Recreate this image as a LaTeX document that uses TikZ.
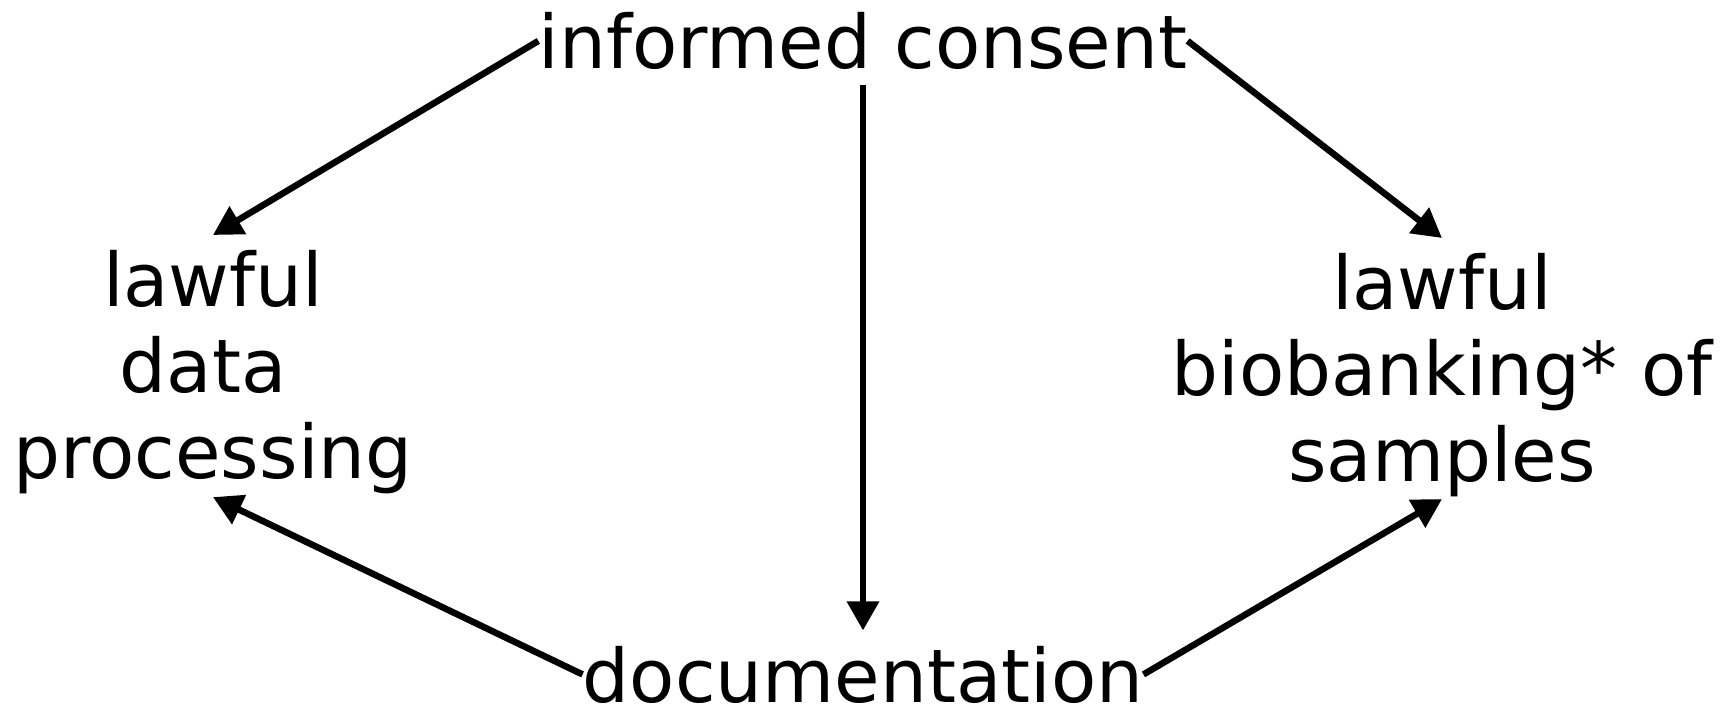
\documentclass[tikz,border=0pt]{standalone}
\usepackage{fontspec}
\setmainfont{DejaVu Sans}
\usetikzlibrary{arrows.meta}

\begin{document}
\begin{tikzpicture}[
    x=0.02cm, y=-0.02cm,
    txt/.style={inner xsep=0pt, inner ysep=0.3cm, align=center,
                font=\fontsize{42.1}{48.9}\selectfont},
    link/.style={-{Triangle[length=0.58cm, width=0.62cm]}, line width=0.13cm}
]
    \useasboundingbox (0,0) rectangle (1731,708);

    \node[txt, anchor=base] (consent) at (863,68.5) {informed consent};

    \node[txt, anchor=north] (lawdata) at (213,235)
        {lawful\\ data\kern0.4cm\\ processing};

    \node[txt, anchor=north] (lawbio) at (1442,238)
        {lawful\\ biobanking* of\\ samples};

    \node[txt, anchor=base] (docu) at (863,702) {documentation};

    \draw[link] (consent.west) -- (lawdata.north);
    \draw[link] (consent.east) -- (lawbio.north);
    \draw[link] (consent.south) -- (docu.north);
    \draw[link] (docu.west) -- ([yshift=0.24cm]lawdata.south);
    \draw[link] (docu.east) -- ([yshift=0.26cm]lawbio.south);
\end{tikzpicture}
\end{document}
